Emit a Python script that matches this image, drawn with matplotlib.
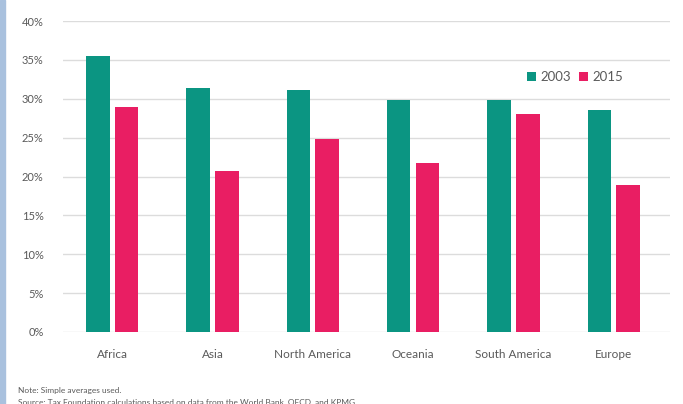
import matplotlib
matplotlib.use('Agg')
import matplotlib.pyplot as plt
import numpy as np
from matplotlib.patches import Rectangle

# data (percent)
regions = ['Africa', 'Asia', 'North America', 'Oceania', 'South America', 'Europe']
rate_2003 = [35.5, 31.4, 31.1, 29.8, 29.8, 28.6]
rate_2015 = [28.9, 20.7, 24.8, 21.7, 28.0, 18.9]
yticks = [0, 5, 10, 15, 20, 25, 30, 35, 40]

teal = '#0b9582'
pink = '#e91e63'
grey_txt = '#5a5a5a'

plt.rcParams['font.family'] = ['Lato', 'DejaVu Sans']

fig = plt.figure(figsize=(6.83, 4.04), dpi=100)
ax = fig.add_axes([63/683, 1 - 332/404, 607/683, 311/404])

x = np.arange(len(regions))
w = 0.235
ax.bar(x - 0.144, rate_2003, w, color=teal, label='2003', zorder=3)
ax.bar(x + 0.144, rate_2015, w, color=pink, label='2015', zorder=3)

ax.set_xlim(-0.49, 5.56)
ax.set_ylim(0, 40)
ax.set_yticks(yticks)
ax.set_yticklabels([f'{t}%' for t in yticks], color=grey_txt, fontsize=8)
ax.set_xticks(x)
ax.set_xticklabels(regions, color=grey_txt, fontsize=8.5)
ax.tick_params(axis='both', length=0)
ax.tick_params(axis='x', pad=12)
ax.tick_params(axis='y', pad=14)
ax.grid(axis='y', color='#dcdcdc', linewidth=1, zorder=0)
for s in ax.spines.values():
    s.set_visible(False)

ax.legend(loc='upper left', bbox_to_anchor=(0.745, 0.877), ncol=2, frameon=False,
          fontsize=9.5, handlelength=0.7, handleheight=0.7, handletextpad=0.3,
          columnspacing=0.6, labelcolor=grey_txt)

fig.text(18/683, 1 - 391/404, 'Note: Simple averages used.', fontsize=6,
         color=grey_txt, va='center')
fig.text(18/683, 1 - 402/404,
         'Source: Tax Foundation calculations based on data from the World Bank, OECD, and KPMG.',
         fontsize=6, color=grey_txt, va='center')

# light blue strip at the left edge of the screenshot
fig.patches.append(Rectangle((0, 0), 5/683, 1, transform=fig.transFigure,
                             color='#a9c1de', zorder=0))

fig.savefig('out.png', dpi=100)
